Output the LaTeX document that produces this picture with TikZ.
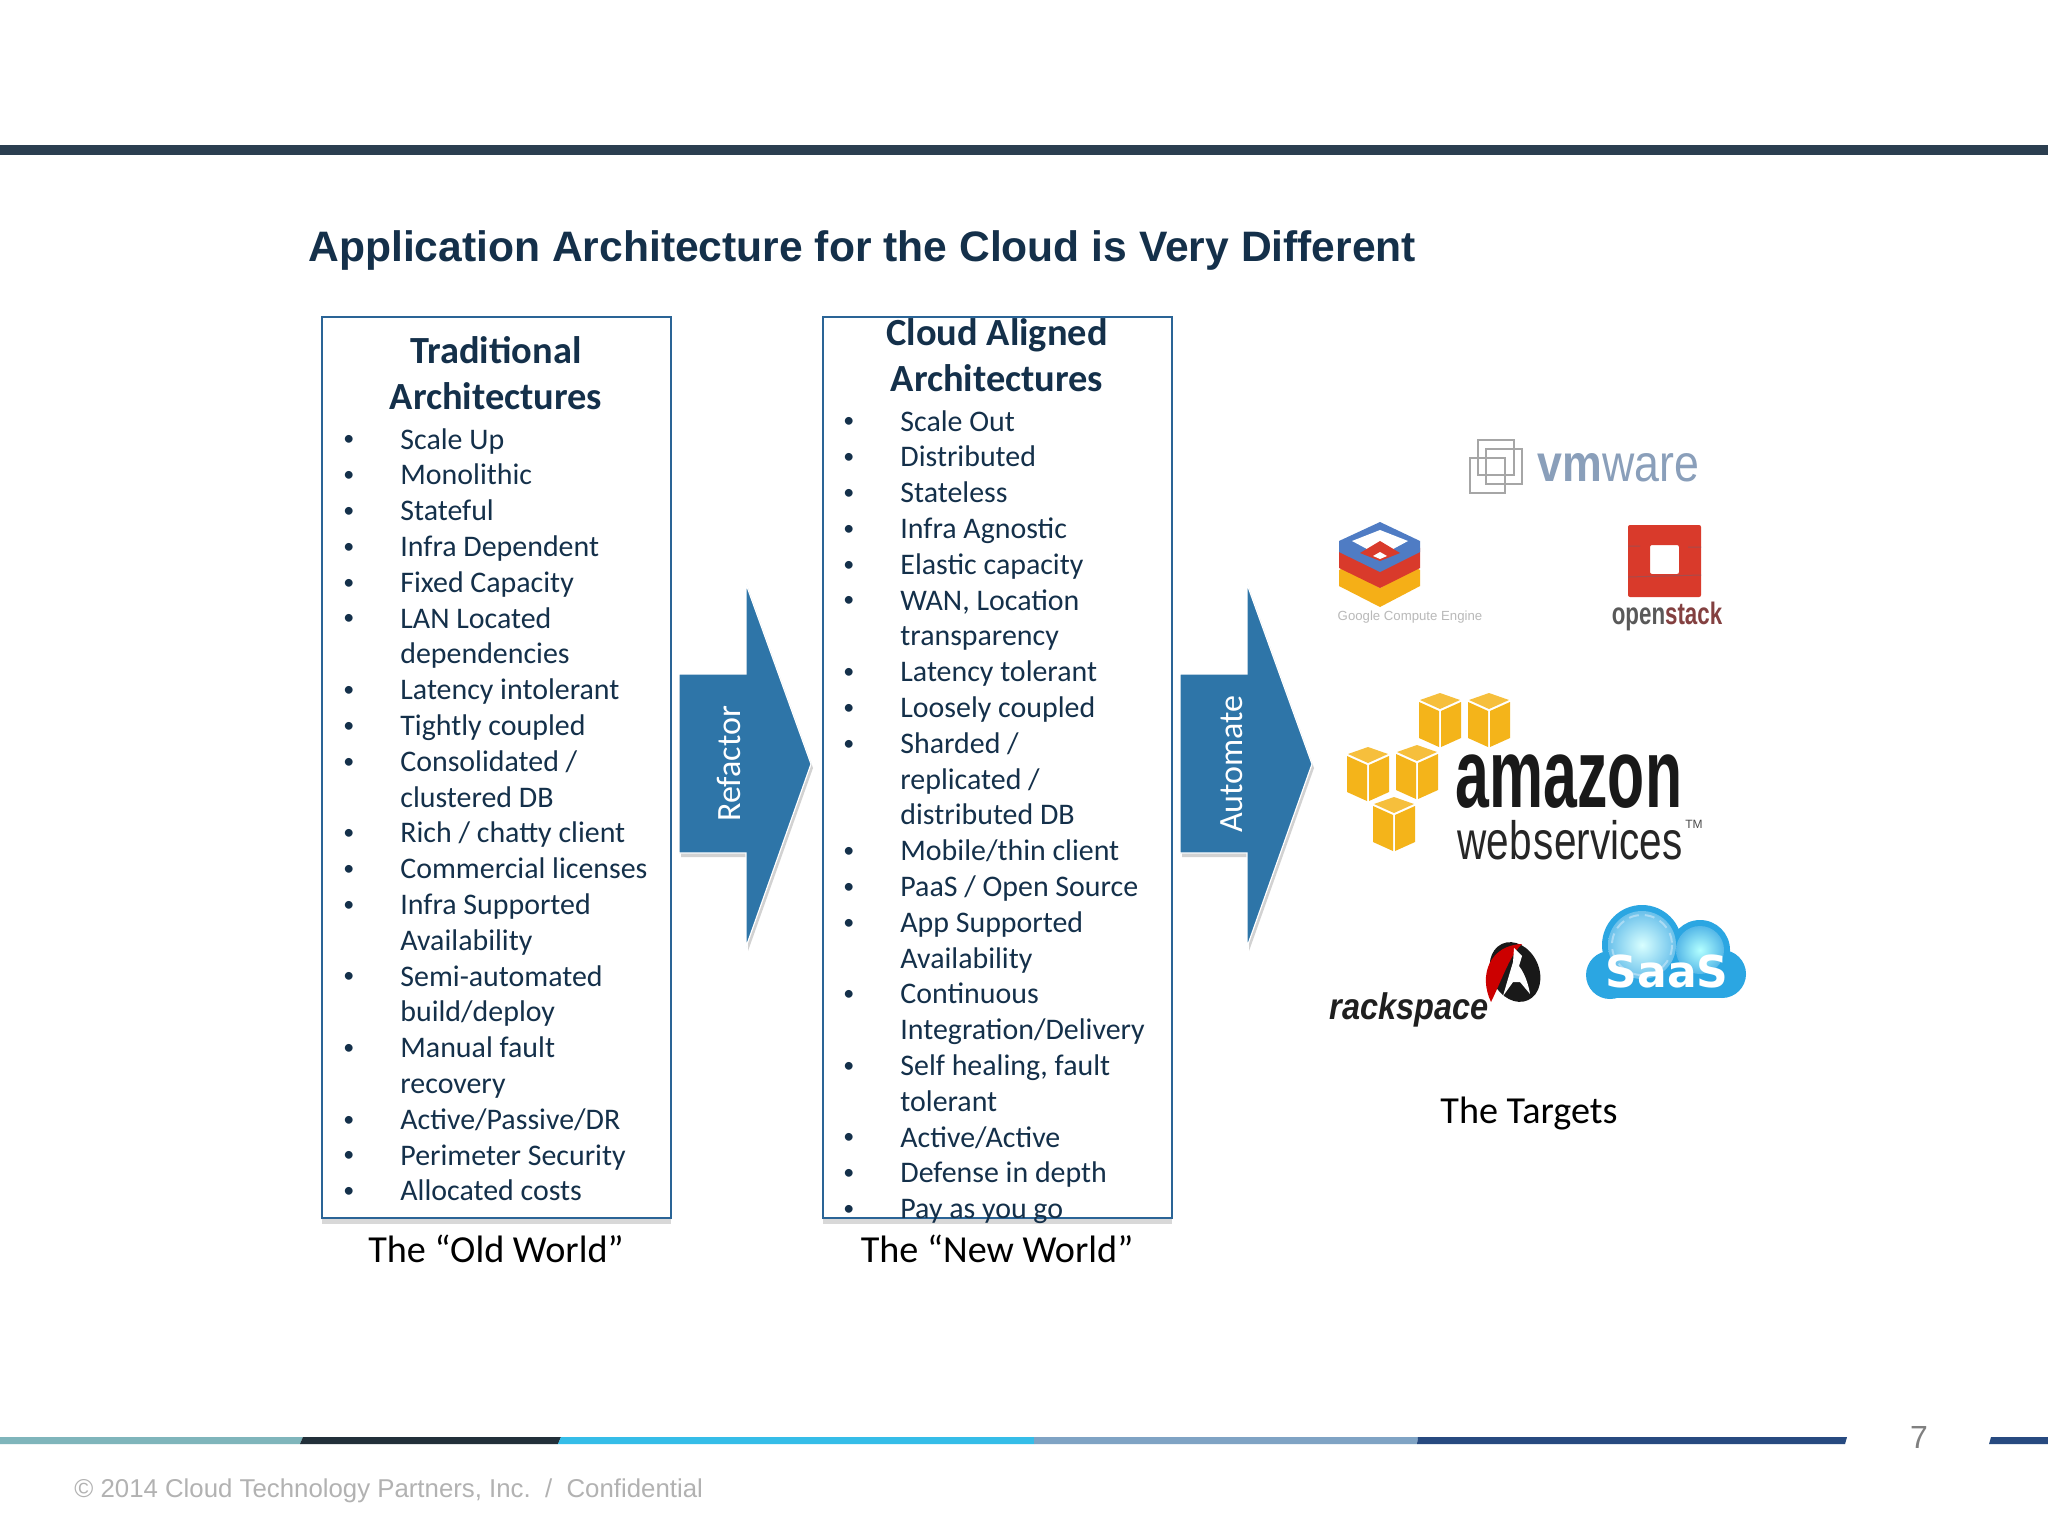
\documentclass[tikz,border=0pt]{standalone}
\usepackage{fontspec}
\setmainfont{Carlito}
\newfontfamily\arial{Liberation Sans}
\newfontfamily\dejavu{DejaVu Sans}
\usetikzlibrary{positioning,shadows,shapes.geometric}
\definecolor{navy}{HTML}{14304A}
\definecolor{barnavy}{HTML}{2B3E50}
\definecolor{arrowblue}{HTML}{2E75A8}
\definecolor{boxblue}{HTML}{2A6496}
\definecolor{awsyellow}{HTML}{F4B41A}
\definecolor{stackred}{HTML}{D93A2B}
\definecolor{vmgrey}{HTML}{8A9FBA}
\definecolor{saasblue}{HTML}{2BA6E2}
\definecolor{gceblue}{HTML}{4F7CC4}
\definecolor{stripeteal}{HTML}{7FB5BB}
\definecolor{stripedark}{HTML}{22303A}
\definecolor{stripecyan}{HTML}{35BDE8}
\definecolor{stripesteel}{HTML}{7FA3C4}
\definecolor{stripenavy}{HTML}{274A80}
\newcommand{\blt}{\llap{\raisebox{1.6pt}{\fontsize{11}{11}\selectfont\textbullet}\hspace{23pt}}}

\begin{document}
\begin{tikzpicture}[x=0.5pt,y=-0.5pt]
				\tikzset{
					archbox/.style={draw=boxblue,line width=1pt,fill=white,minimum width=174.5pt,minimum height=450.5pt,drop shadow={shadow xshift=0pt,shadow yshift=-3pt,opacity=.3}},
					headtext/.style={align=center,inner sep=0pt,text=navy,font=\fontsize{19.2}{22.85}\selectfont\bfseries},
					listtext/.style={align=left,inner sep=0pt,text=navy,font=\fontsize{14.95}{17.9}\selectfont},
					caption/.style={align=center,inner sep=0pt,font=\fontsize{19.1}{22}\selectfont},
					blockarrow/.style={fill=arrowblue,draw=white,line width=.6pt,drop shadow={shadow xshift=1pt,shadow yshift=-2pt,opacity=.35}},
					arrowtext/.style={rotate=90,inner sep=0pt,text=white,font=\fontsize{17}{20}\selectfont},
					awscube/.pic={
						\fill[awsyellow] (-21,7) -- (-1,16) -- (-1,52) -- (-21,43) -- cycle;
						\fill[awsyellow] (21,7) -- (1,16) -- (1,52) -- (21,43) -- cycle;
						\fill[awsyellow!85!white] (-20,5) -- (0,-2) -- (20,5) -- (0,14) -- cycle;
					},
				}
				\useasboundingbox (0,0) rectangle (2048,1536);
				\fill[white] (0,0) rectangle (2048,1536);
				\fill[barnavy] (0,145) rectangle (2048,155);
				\node [anchor=west,inner sep=0pt,text=navy,font=\arial\bfseries\fontsize{21.3}{25}\selectfont] (title) at (308,250) {Application Architecture for the Cloud is Very Different};

				% the two columns
				\node [archbox] (oldbox) at (496,767.5) {};
				\node [archbox, right =75pt of oldbox] (newbox) {};
				\node [headtext, below =10pt of oldbox.north] (oldhead) {Traditional\\Architectures};
				\node [headtext, below =1pt of newbox.north] (newhead) {Cloud Aligned\\Architectures};
				\node [listtext,anchor=north west] (oldlist) at (400,428) {\blt Scale Up\\\blt Monolithic\\\blt Stateful\\\blt Infra Dependent\\\blt Fixed Capacity\\\blt LAN Located\\dependencies\\\blt Latency intolerant\\\blt Tightly coupled\\\blt Consolidated /\\clustered DB\\\blt Rich / chatty client\\\blt Commercial licenses\\\blt Infra Supported\\Availability\\\blt Semi-automated\\build/deploy\\\blt Manual fault\\recovery\\\blt Active/Passive/DR\\\blt Perimeter Security\\\blt Allocated costs};
				\node [listtext,anchor=north west] (newlist) at (900,410) {\blt Scale Out\\\blt Distributed\\\blt Stateless\\\blt Infra Agnostic\\\blt Elastic capacity\\\blt WAN, Location\\transparency\\\blt Latency tolerant\\\blt Loosely coupled\\\blt Sharded /\\replicated /\\distributed DB\\\blt Mobile/thin client\\\blt PaaS / Open Source\\\blt App Supported\\Availability\\\blt Continuous\\Integration/Delivery\\\blt Self healing, fault\\tolerant\\\blt Active/Active\\\blt Defense in depth\\\blt Pay as you go};
				\node [caption, below =8pt of oldbox] (oldcap) {The “Old World”};
				\node [caption, below =8pt of newbox] (newcap) {The “New World”};

				% arrows
				\path[blockarrow] (679,674) -- (746,674) -- (746,584) -- (811,764) -- (746,947) -- (746,853) -- (679,853) -- cycle;
				\node [arrowtext] (refactor) at (729,764) {Refactor};
				\path[blockarrow] (1180,674) -- (1247,674) -- (1247,584) -- (1312,764) -- (1247,947) -- (1247,853) -- (1180,853) -- cycle;
				\node [arrowtext] (automate) at (1232,764) {Automate};

				% vmware
				\draw[gray!70,line width=.7pt] (1478,440) rectangle (1514,475) (1486,449) rectangle (1522,484) (1470,458) rectangle (1505,493);
				\node [anchor=west,inner sep=0pt,text=vmgrey,font=\arial\fontsize{26}{30}\selectfont] (vmware) at (1537,468) {\scalebox{.86}[1]{\textbf{vm}ware}};

				% google compute engine
				\fill[awsyellow!90!orange] (1339,570) -- (1380,550) -- (1420,570) -- (1420,586) -- (1380,607) -- (1339,586) -- cycle;
				\fill[white] (1352,572) -- (1380,558) -- (1408,572) -- (1380,588) -- cycle;
				\fill[stackred] (1339,548) -- (1380,528) -- (1420,548) -- (1420,568) -- (1380,588) -- (1339,568) -- cycle;
				\fill[white] (1352,552) -- (1380,538) -- (1408,552) -- (1380,570) -- cycle;
				\fill[gceblue] (1339,541) -- (1380,522) -- (1420,541) -- (1420,552) -- (1380,572) -- (1339,552) -- cycle;
				\fill[white] (1352,541) -- (1380,530) -- (1408,541) -- (1380,556) -- cycle;
				\fill[stackred] (1360,553) -- (1380,541) -- (1400,553) -- (1380,561) -- cycle;
				\fill[white] (1373,556) -- (1380,552) -- (1387,556) -- (1380,559) -- cycle;
				\node [inner sep=0pt,text=gray!55,font=\arial\fontsize{6.6}{8}\selectfont] (gce) at (1410,617) {Google Compute Engine};

				% openstack
				\fill[stackred,even odd rule,rounded corners=1pt] (1628,525) rectangle (1701,597) (1650,545) rectangle (1679,574);
				\draw[red!50!black!70,line width=.5pt] (1628,546) -- (1640,546) (1688,547) -- (1701,547) (1628,577) -- (1701,575);
				\node [inner sep=0pt,font=\arial\bfseries\fontsize{15.5}{18}\selectfont] (openstack) at (1667,616) {\scalebox{.72}[1]{\textcolor{black!65}{open}\textcolor{red!35!black!75}{stack}}};

				% amazon web services
				\path (1440,695) pic {awscube} (1489,695) pic {awscube} (1368,749) pic {awscube} (1417,747) pic {awscube} (1394,799) pic {awscube};
				\node [inner sep=0pt,anchor=center,text=black!90,font=\arial\bfseries\fontsize{49}{55}\selectfont] (amazon) at (1569,782) {\scalebox{.62}[1]{amazon}};
				\node [inner sep=0pt,anchor=center,text=black!85,font=\arial\fontsize{27}{31}\selectfont] (webservices) at (1570,840) {\scalebox{.75}[1]{web\hspace{-6pt} services}};
				\node [right =1pt of webservices.east,yshift=8pt,inner sep=0pt,text=black!70,font=\arial\fontsize{6}{7}\selectfont] (awstm) {TM};

				% rackspace
				\fill[black!90,rotate around={25:(1515,972)}] (1515,972) ellipse (24 and 31);
				\fill[red!80!black] (1491,1002) .. controls (1478,975) and (1490,945) .. (1522,944) .. controls (1510,955) and (1504,975) .. cycle;
				\fill[white] (1503,996) .. controls (1507,982) and (1510,972) .. (1513,962) -- (1514,948) -- (1522,956) -- (1519,966) .. controls (1526,975) and (1529,988) .. (1530,994) -- (1520,982) -- (1513,982) -- cycle;
				\node [inner sep=0pt,text=black!88,font=\arial\bfseries\itshape\fontsize{18.5}{22}\selectfont] (rackspace) at (1409,1010) {\scalebox{.88}[1]{rackspace}};

				% saas cloud
				\fill[saasblue] (1642,945) circle (40);
				\fill[saasblue] (1700,950) circle (30);
				\fill[saasblue] (1610,975) circle (24);
				\fill[saasblue] (1722,974) circle (24);
				\fill[saasblue] (1610,955) rectangle (1722,998);
				\shade[inner color=cyan!15,outer color=saasblue!70] (1642,945) circle (34);
				\shade[inner color=cyan!30,outer color=saasblue!80] (1700,950) circle (24);
				\draw[white!60!saasblue,line width=1pt,dash pattern=on 5pt off 3pt] (1642,945) circle (30);
				\node [inner sep=0pt,text=white,font=\dejavu\bfseries\fontsize{22}{26}\selectfont] (saas) at (1667,971) {SaaS};

				\node [caption] (targets) at (1529,1114) {The Targets};

				% footer
				\fill[stripeteal] (0,1437) -- (303,1437) -- (300,1444) -- (0,1444) -- cycle;
				\fill[stripedark] (303,1437) -- (561,1437) -- (558,1444) -- (300,1444) -- cycle;
				\fill[stripecyan] (561,1437) -- (1034,1437) -- (1034,1444) -- (558,1444) -- cycle;
				\fill[stripesteel] (1034,1437) -- (1418,1437) -- (1417,1444) -- (1034,1444) -- cycle;
				\fill[stripenavy] (1418,1437) -- (1847,1437) -- (1845,1444) -- (1417,1444) -- cycle;
				\fill[stripenavy] (1991,1437) -- (2048,1437) -- (2048,1444) -- (1989,1444) -- cycle;
				\node [inner sep=0pt,text=gray,font=\arial\fontsize{16}{19}\selectfont] (pagenum) at (1919,1437) {7};
				\node [anchor=west,inner sep=0pt,text=black!30,font=\arial\fontsize{12.9}{16}\selectfont] (copyright) at (74,1491) {© 2014 Cloud Technology Partners, Inc.~~/~~Confidential};
			\end{tikzpicture}
\end{document}
